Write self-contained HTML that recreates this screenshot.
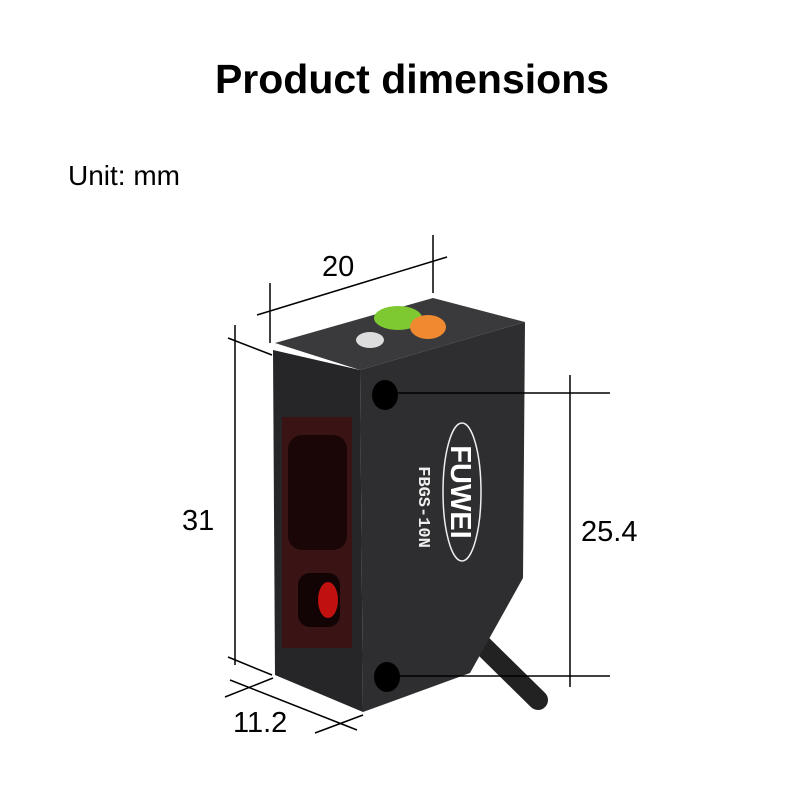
<!DOCTYPE html>
<html><head><style>
body{margin:0;width:800px;height:800px;background:#fff;overflow:hidden;font-family:"Liberation Sans",sans-serif}
</style></head><body>
<svg width="800" height="800" xmlns="http://www.w3.org/2000/svg" font-family="Liberation Sans, sans-serif">
<text x="412" y="93" text-anchor="middle" font-size="41" font-weight="bold">Product dimensions</text>
<text x="68" y="185" font-size="28">Unit: mm</text>
<!-- cable -->
<line x1="477" y1="640" x2="538" y2="700" stroke="#222" stroke-width="20" stroke-linecap="round"/>
<!-- body -->
<polygon points="275,343 433,298 525,322 360,370" fill="#3a3a3c"/>
<polygon points="273,350 360,370 363,712 275,675" fill="#262628"/>
<polygon points="360,370 525,322 523,578 470,673 363,712" fill="#2e2e30"/>
<!-- window -->
<rect x="282" y="417" width="70" height="231" fill="#3a1414"/>
<rect x="288" y="435" width="59" height="115" rx="14" fill="#1a0606"/>
<rect x="298" y="573" width="42" height="54" rx="12" fill="#120404"/>
<ellipse cx="328" cy="600" rx="10" ry="18" fill="#c01010"/>
<!-- holes -->
<ellipse cx="385" cy="395" rx="13" ry="15" fill="#000"/>
<ellipse cx="387" cy="677" rx="13" ry="15" fill="#000"/>
<!-- top details -->
<ellipse cx="370" cy="340" rx="14" ry="8" fill="#ddd"/>
<ellipse cx="398" cy="318" rx="24" ry="12" fill="#7ec832"/>
<ellipse cx="428" cy="327" rx="18" ry="12" fill="#f08a30"/>
<!-- logo -->
<ellipse cx="462" cy="492" rx="19" ry="69" fill="none" stroke="#eee" stroke-width="1.5"/>
<text transform="translate(451,492) rotate(90)" text-anchor="middle" font-size="29" font-weight="bold" fill="#fff">FUWEI</text>
<text transform="translate(419,507) rotate(90)" text-anchor="middle" font-size="17" font-weight="bold" fill="#eee" font-family="Liberation Mono, monospace">FBGS-10N</text>
<!-- dimensions -->
<g stroke="#000" stroke-width="1.5">
<line x1="257" y1="315" x2="447" y2="257"/>
<line x1="270" y1="283" x2="270" y2="343"/>
<line x1="433" y1="235" x2="433" y2="293"/>
<line x1="235" y1="325" x2="235" y2="665"/>
<line x1="228" y1="338" x2="272" y2="355"/>
<line x1="228" y1="657" x2="272" y2="675"/>
<line x1="230" y1="680" x2="357" y2="730"/>
<line x1="225" y1="697" x2="273" y2="678"/>
<line x1="315" y1="733" x2="363" y2="715"/>
<line x1="398" y1="393" x2="610" y2="393"/>
<line x1="398" y1="676" x2="610" y2="676"/>
<line x1="570" y1="375" x2="570" y2="687"/>
</g>
<g font-size="29">
<text x="322" y="276">20</text>
<text x="182" y="530">31</text>
<text x="233" y="732">11.2</text>
<text x="581" y="541">25.4</text>
</g>
</svg>
</body></html>
